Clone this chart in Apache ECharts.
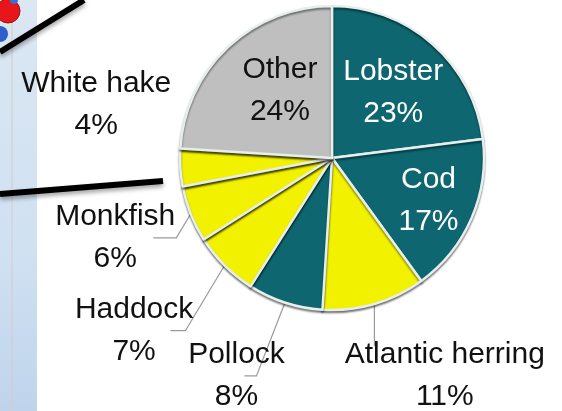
<!DOCTYPE html>
<html>
<head>
<meta charset="utf-8">
<script src="https://cdn.jsdelivr.net/npm/echarts@6/dist/echarts.min.js"></script>
<style>
  html, body { margin: 0; padding: 0; background: #ffffff; }
  #chart { width: 562px; height: 411px; }
</style>
</head>
<body>
<div id="chart"></div>
<script>
// Landings by species, share of total value (%)
const species = ['Lobster', 'Cod', 'Atlantic herring', 'Pollock', 'Haddock', 'Monkfish', 'White hake', 'Other'];
const shares = [23, 17, 11, 8, 7, 6, 4, 24];

// Slice and label colours
const TEAL = '#0e6670';
const YELLOW = '#f1f100';
const GREY = '#bfbfbf';
const sliceColors = [TEAL, TEAL, YELLOW, TEAL, YELLOW, YELLOW, YELLOW, GREY];
const labelColors = ['#ffffff', '#ffffff', '#111111', '#111111', '#111111', '#111111', '#111111', '#111111'];

// Label placement: inside labels get a small nudge, outside labels a leader
const labelTweaks = [
  { inside: true, shiftX: 9, shiftY: -6 },
  { inside: true, shiftX: 24, shiftY: 11 },
  { len: 73, gap: -50, leader: 'drop', shiftY: 2 },
  { len: 75, gap: -23, leader: 'bend', lean: 0.39, stub: 12, shiftY: 2 },
  { len: 88, gap: -31, leader: 'bend', lean: 0.6, stub: 15, shiftY: 3 },
  { len: 65, gap: -45, leader: 'bend', lean: 0.6, stub: 23, shiftY: 0 },
  { len: 2, gap: 7, leader: null, shiftY: -63 },
  { inside: true, shiftX: 2, shiftY: -10 }
];

const FONT = "'Liberation Sans Narrow', 'Arial Narrow', 'Liberation Sans', Arial, sans-serif";

const pieData = species.map((name, i) => {
  const t = labelTweaks[i];
  return {
    name: name,
    value: shares[i],
    itemStyle: { color: sliceColors[i] },
    label: t.inside
      ? { position: 'inside', color: labelColors[i] }
      : { position: 'outside', color: labelColors[i], distanceToLabelLine: t.gap },
    labelLine: t.inside
      ? { show: false }
      : { show: !!t.leader, length: t.len, length2: 0 }
  };
});

const chart = echarts.init(document.getElementById('chart'), null, { renderer: 'canvas' });

chart.setOption({
  animation: false,
  backgroundColor: '#ffffff',
  graphic: [
    // photo strip on the left edge
    {
      type: 'rect', z: 0,
      shape: { x: 0, y: 0, width: 37, height: 411 },
      style: {
        fill: new echarts.graphic.LinearGradient(0, 0, 0, 1, [
          { offset: 0, color: '#dbe7f3' },
          { offset: 0.6, color: '#d0e1f2' },
          { offset: 1, color: '#bfd4ec' }
        ])
      }
    },
    { type: 'line', z: 1, shape: { x1: 12, y1: 0, x2: 12, y2: 411 }, style: { stroke: '#d8c9c9', lineWidth: 1 } },
    { type: 'circle', z: 1, shape: { cx: 8, cy: 11, r: 12 }, style: { fill: '#e8161a', stroke: '#9a1010', lineWidth: 1 } },
    { type: 'circle', z: 1, shape: { cx: 0, cy: 34, r: 8 }, style: { fill: '#2c5fc9' } },
    { type: 'circle', z: 1, shape: { cx: 14, cy: 0, r: 4 }, style: { fill: '#3b6fd6' } },
    // black rule lines
    {
      type: 'line', z: 2,
      shape: { x1: 0, y1: 52, x2: 84, y2: 0 },
      style: { stroke: '#000000', lineWidth: 6, shadowBlur: 4, shadowColor: 'rgba(0,0,0,0.35)', shadowOffsetY: 3 }
    },
    {
      type: 'line', z: 2,
      shape: { x1: 0, y1: 194, x2: 163, y2: 181 },
      style: { stroke: '#000000', lineWidth: 6, shadowBlur: 4, shadowColor: 'rgba(0,0,0,0.35)', shadowOffsetY: 3 }
    }
  ],
  series: [{
    type: 'pie',
    center: [332, 158],
    radius: 152,
    startAngle: 90,
    clockwise: true,
    avoidLabelOverlap: false,
    itemStyle: {
      borderColor: '#e6eeee', borderWidth: 2.5,
      shadowColor: 'rgba(0,0,0,0.45)', shadowBlur: 2, shadowOffsetY: 2
    },
    label: {
      show: true,
      formatter: '{n|{b}}\n{n|{c}%}',
      rich: {
        n: { fontFamily: FONT, fontSize: 30, lineHeight: 42, align: 'center' }
      }
    },
    labelLine: { lineStyle: { color: '#9a9a9a', width: 1.2 }, smooth: false },
    labelLayout: function (p) {
      const t = labelTweaks[p.dataIndex];
      const sx = t.shiftX || 0;
      const sy = t.shiftY || 0;
      const out = { dx: sx, dy: sy };
      if (t.leader && p.labelLinePoints) {
        const e = p.labelLinePoints[0];
        const r = p.labelRect;
        if (t.leader === 'drop') {
          out.labelLinePoints = [e, [e[0], r.y + sy + 6], [e[0], r.y + sy + 6]];
        } else {
          const my = r.y + r.height / 2 + sy;
          const kx = e[0] - (my - e[1]) * t.lean;
          out.labelLinePoints = [e, [kx, my], [kx - t.stub, my]];
        }
      }
      return out;
    },
    data: pieData
  }]
});
</script>
</body>
</html>
